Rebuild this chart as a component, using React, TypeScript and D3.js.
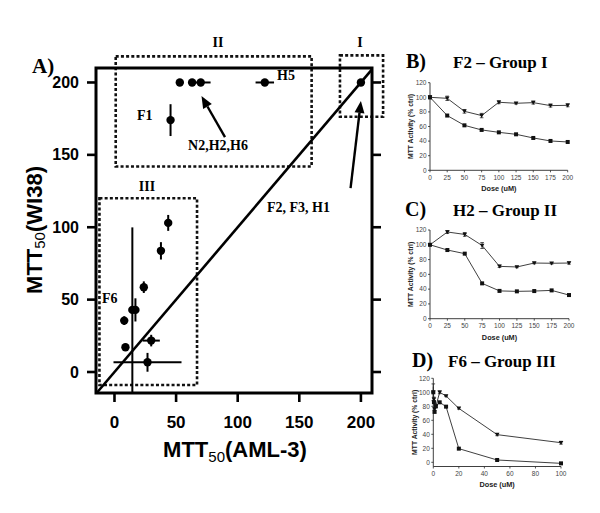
import React from 'react';
import * as d3 from 'd3';

// ---------- Panel A data (MTT50 AML-3 vs WI38) ----------
const amlValues = [200, 53, 63, 70, 122, 45.5, 43.6, 37.7, 23.8, 7.9, 14.5, 17, 8.9, 29.8, 26.8];
const wi38Values = [200, 200, 200, 200, 200, 174, 103, 83.7, 58.6, 35.5, 42.9, 42.9, 17.1, 21.7, 6.7];
const amlErrors = [0, 3, 3, 8, 7.5, 0, 0, 0, 0, 0, 0, 0, 0, 7, 27.6];
const wi38Errors = [0, 0, 0, 0, 0, 11, 5.5, 6, 4, 3, 57, 8, 0, 4, 6.5];
const mainTicks = [0, 50, 100, 150, 200];

// group boxes: [x0, x1, y0, y1] in data units, label
const boxLabels = ['II', 'I', 'III'];
const boxExtents = [
  [1, 160, 142, 218],
  [183, 218, 176.3, 218.7],
  [-12.2, 67, -9, 120],
];
const boxLabelPos = [
  [84, 224.5],
  [199.3, 224.5],
  [26.4, 125],
];
const noteTexts = ['F1', 'N2,H2,H6', 'H5', 'F2, F3, H1', 'F6'];
const notePos = [
  [18.3, 174],
  [59.7, 153.3],
  [131.9, 201.7],
  [123.8, 110.5],
  [-10.1, 47.7],
];
// arrows: [tailX, tailY, tipX, tipY] data units
const arrows = [
  [89.7, 162.3, 70.6, 190.6],
  [191.6, 127, 200, 187.2],
];

// ---------- Panel B: F2 ----------
const doseB = [0, 25, 50, 75, 100, 125, 150, 175, 200];
const bUpper = [100, 98.6, 80.8, 75, 93.2, 91.8, 92.7, 88.6, 89];
const bUpperErr = [2, 3, 2.5, 3, 2, 1, 2, 2, 2];
const bLower = [100, 75, 61.6, 55.3, 52, 49.3, 44.3, 40.2, 38.8];
const bLowerErr = [1, 1, 1, 1, 1, 1, 1, 1, 1];

// ---------- Panel C: H2 ----------
const doseC = [0, 25, 50, 75, 100, 125, 150, 175, 200];
const cUpper = [100, 117.3, 114, 99, 70.8, 70, 75.3, 75, 75.3];
const cUpperErr = [1, 2, 2.5, 4, 1.5, 1, 1, 1, 1.5];
const cLower = [100, 92.9, 88, 47.8, 37.6, 37, 37.4, 38.3, 32];
const cLowerErr = [1, 1, 1, 1, 1, 1, 1, 1, 1];

// ---------- Panel D: F6 ----------
const doseD = [0, 0.5, 1, 2, 5, 10, 20, 50, 100];
const dUpper = [100, 90, 76, 80, 100, 94.8, 77, 39.5, 28];
const dUpperErr = [12, 3, 2, 2, 2, 1, 1, 1.5, 2];
const dLower = [100, 86, 72, 80, 85.7, 79.5, 19.5, 3.3, -1.5];
const dLowerErr = [8, 2, 2, 2, 1, 1, 1, 1, 1];

const ticksDoseBC = [0, 25, 50, 75, 100, 125, 150, 175, 200];
const ticksDoseD = [0, 20, 40, 60, 80, 100];
const ticksActivity = [0, 20, 40, 60, 80, 100, 120];

const SANS = '"Liberation Sans", Arial, sans-serif';
const SERIF = '"Liberation Serif", "Times New Roman", serif';

type SmallProps = {
  left: number; right: number; top: number; bottom: number;
  xDomain: [number, number]; yDomain: [number, number];
  xTicks: number[]; dose: number[];
  upper: number[]; upperErr: number[]; lower: number[]; lowerErr: number[];
  yLabelOffset: number; doseOffset: number;
};

function SmallChart(p: SmallProps) {
  const x = d3.scaleLinear().domain(p.xDomain).range([p.left, p.right]);
  const y = d3.scaleLinear().domain(p.yDomain).range([p.bottom, p.top]);
  const line = d3.line<number>().x((_, i) => x(p.dose[i])).y((v) => y(v));
  const axisY = y(p.yDomain[0]);
  const col = '#2a2a2a';
  const tri = (cx: number, cy: number) => `M${cx - 2.3},${cy - 1.8}L${cx + 2.3},${cy - 1.8}L${cx},${cy + 2.2}Z`;
  return (
    <g>
      {/* axes */}
      <line x1={p.left} x2={p.left} y1={y(p.yDomain[1])} y2={axisY} stroke={col} strokeWidth={0.9} />
      <line x1={p.left} x2={p.right} y1={axisY} y2={axisY} stroke={col} strokeWidth={0.9} />
      {ticksActivity.map((t) => (
        <g key={'y' + t}>
          <line x1={p.left - 2} x2={p.left} y1={y(t)} y2={y(t)} stroke={col} strokeWidth={0.8} />
          <text x={p.left - 3.5} y={y(t) + 2.3} fontSize={6.5} fontFamily={SANS} textAnchor="end" fill="#444">{t}</text>
        </g>
      ))}
      {p.xTicks.map((t) => (
        <g key={'x' + t}>
          <line x1={x(t)} x2={x(t)} y1={axisY} y2={axisY + 2} stroke={col} strokeWidth={0.8} />
          <text x={x(t)} y={axisY + 9.5} fontSize={6.5} fontFamily={SANS} textAnchor="middle" fill="#444">{t}</text>
        </g>
      ))}
      <text x={(p.left + p.right) / 2} y={axisY + p.doseOffset} fontSize={7.3} fontWeight="bold" fontFamily={SANS} textAnchor="middle" fill="#222">Dose (uM)</text>
      <text transform={`translate(${p.left - p.yLabelOffset},${(y(p.yDomain[1]) + axisY) / 2}) rotate(-90)`} fontSize={6.8} fontWeight="bold" fontFamily={SANS} textAnchor="middle" fill="#222">MTT Activity (% ctrl)</text>
      {/* lines */}
      <path d={line(p.upper) || ''} fill="none" stroke={col} strokeWidth={0.9} />
      <path d={line(p.lower) || ''} fill="none" stroke={col} strokeWidth={0.9} />
      {/* error bars */}
      {p.upper.map((v, i) => (
        <g key={'ue' + i}>
          <line x1={x(p.dose[i])} x2={x(p.dose[i])} y1={y(v - p.upperErr[i])} y2={y(v + p.upperErr[i])} stroke={col} strokeWidth={0.8} />
          <line x1={x(p.dose[i]) - 1.8} x2={x(p.dose[i]) + 1.8} y1={y(v - p.upperErr[i])} y2={y(v - p.upperErr[i])} stroke={col} strokeWidth={0.8} />
          <line x1={x(p.dose[i]) - 1.8} x2={x(p.dose[i]) + 1.8} y1={y(v + p.upperErr[i])} y2={y(v + p.upperErr[i])} stroke={col} strokeWidth={0.8} />
        </g>
      ))}
      {p.lower.map((v, i) => (
        <line key={'le' + i} x1={x(p.dose[i])} x2={x(p.dose[i])} y1={y(v - p.lowerErr[i])} y2={y(v + p.lowerErr[i])} stroke={col} strokeWidth={0.8} />
      ))}
      {/* markers */}
      {p.upper.map((v, i) => (
        <path key={'um' + i} d={tri(x(p.dose[i]), y(v))} fill="#111" />
      ))}
      {p.lower.map((v, i) => (
        <rect key={'lm' + i} x={x(p.dose[i]) - 2} y={y(v) - 2} width={4} height={4} fill="#111" />
      ))}
    </g>
  );
}

export default function App() {
  const x = d3.scaleLinear().domain([-15, 209]).range([96, 372]);
  const y = d3.scaleLinear().domain([-14.5, 210]).range([393, 68]);
  const [x0, x1] = x.domain();
  const [y0, y1] = y.domain();
  const dotted = '3 2.2';

  const arrowHead = (a: number[]) => {
    const tx = x(a[2]), ty = y(a[3]);
    const sx = x(a[0]), sy = y(a[1]);
    const ang = Math.atan2(ty - sy, tx - sx);
    const L = 12, W = 5;
    const bx = tx - L * Math.cos(ang), by = ty - L * Math.sin(ang);
    const px = -Math.sin(ang) * W, py = Math.cos(ang) * W;
    return { d: `M${tx},${ty}L${bx + px},${by + py}L${bx - px},${by - py}Z`, bx, by, sx, sy };
  };

  return (
    <svg width={600} height={513} style={{ position: 'absolute', left: 0, top: 0, background: '#fff' }}>
      <rect x={0} y={0} width={600} height={513} fill="#fff" />
      {/* ---------- Panel A ---------- */}
      <text x={32} y={73} fontFamily={SERIF} fontWeight="bold" fontSize={21}>A)</text>
      {/* group boxes */}
      {boxExtents.map((b, i) => (
        <rect key={'box' + i} x={x(b[0])} y={y(b[3])} width={x(b[1]) - x(b[0])} height={y(b[2]) - y(b[3])}
          fill="none" stroke="#111" strokeWidth={2.6} strokeDasharray={dotted} />
      ))}
      {boxLabels.map((t, i) => (
        <text key={'bl' + i} x={x(boxLabelPos[i][0])} y={y(boxLabelPos[i][1])} fontFamily={SERIF} fontWeight="bold" fontSize={14} textAnchor="middle">{t}</text>
      ))}
      {/* frame */}
      <rect x={x(x0)} y={y(y1)} width={x(x1) - x(x0)} height={y(y0) - y(y1)} fill="none" stroke="#000" strokeWidth={3} />
      {/* diagonal identity line */}
      <line x1={x(Math.max(x0, y0))} y1={y(Math.max(x0, y0))} x2={x(Math.min(x1, y1))} y2={y(Math.min(x1, y1))} stroke="#000" strokeWidth={2.6} />
      {/* ticks */}
      {mainTicks.map((t) => (
        <g key={'my' + t}>
          <line x1={x(x0) - 9} x2={x(x0)} y1={y(t)} y2={y(t)} stroke="#000" strokeWidth={2.6} />
          <line x1={x(x1)} x2={x(x1) + 9} y1={y(t)} y2={y(t)} stroke="#000" strokeWidth={2.6} />
          <text x={79} y={y(t) + 5.5} fontFamily={SANS} fontWeight="bold" fontSize={16} textAnchor="end">{t}</text>
        </g>
      ))}
      {mainTicks.map((t) => (
        <g key={'mx' + t}>
          <line x1={x(t)} x2={x(t)} y1={y(y0)} y2={y(y0) + 9} stroke="#000" strokeWidth={2.6} />
          <text x={x(t)} y={428} fontFamily={SANS} fontWeight="bold" fontSize={17} textAnchor="middle">{t}</text>
        </g>
      ))}
      {/* axis titles */}
      <text x={235} y={457} fontFamily={SANS} fontWeight="bold" fontSize={22} textAnchor="middle">
        MTT<tspan fontWeight="normal" fontSize={15} dy={5}>50</tspan><tspan dy={-5}>(AML-3)</tspan>
      </text>
      <text transform="translate(42,230) rotate(-90)" fontFamily={SANS} fontWeight="bold" fontSize={22} textAnchor="middle">
        MTT<tspan fontWeight="normal" fontSize={15} dy={3}>50</tspan><tspan dy={-3}>(WI38)</tspan>
      </text>
      {/* error bars */}
      {amlValues.map((v, i) => (
        <g key={'err' + i}>
          {amlErrors[i] > 0 && (
            <line x1={x(v - amlErrors[i])} x2={x(v + amlErrors[i])} y1={y(wi38Values[i])} y2={y(wi38Values[i])} stroke="#000" strokeWidth={2} />
          )}
          {wi38Errors[i] > 0 && (
            <line x1={x(v)} x2={x(v)} y1={y(Math.max(y0, wi38Values[i] - wi38Errors[i]))} y2={y(wi38Values[i] + wi38Errors[i])} stroke="#000" strokeWidth={2} />
          )}
        </g>
      ))}
      {amlValues.map((v, i) => (
        <circle key={'pt' + i} cx={x(v)} cy={y(wi38Values[i])} r={4.2} fill="#000" />
      ))}
      {/* notes */}
      {noteTexts.map((t, i) => (
        <text key={'nt' + i} x={x(notePos[i][0])} y={y(notePos[i][1])} fontFamily={SERIF} fontWeight="bold" fontSize={14}>{t}</text>
      ))}
      {arrows.map((a, i) => {
        const h = arrowHead(a);
        return (
          <g key={'ar' + i}>
            <line x1={h.sx} y1={h.sy} x2={h.bx} y2={h.by} stroke="#000" strokeWidth={2.4} />
            <path d={h.d} fill="#000" />
          </g>
        );
      })}

      {/* ---------- Panel B ---------- */}
      <text x={406} y={68} fontFamily={SERIF} fontWeight="bold" fontSize={20}>B)</text>
      <text x={453} y={68} fontFamily={SERIF} fontWeight="bold" fontSize={17}>F2 – Group I</text>
      <SmallChart left={430} right={567.7} top={82.7} bottom={170.3} xDomain={[0, 200]} yDomain={[0, 120]}
        xTicks={ticksDoseBC} dose={doseB} upper={bUpper} upperErr={bUpperErr} lower={bLower} lowerErr={bLowerErr}
        yLabelOffset={17} doseOffset={21} />

      {/* ---------- Panel C ---------- */}
      <text x={405} y={216} fontFamily={SERIF} fontWeight="bold" fontSize={20}>C)</text>
      <text x={453} y={216} fontFamily={SERIF} fontWeight="bold" fontSize={17}>H2 – Group II</text>
      <SmallChart left={430} right={569} top={230} bottom={318.7} xDomain={[0, 200]} yDomain={[0, 120]}
        xTicks={ticksDoseBC} dose={doseC} upper={cUpper} upperErr={cUpperErr} lower={cLower} lowerErr={cLowerErr}
        yLabelOffset={17} doseOffset={21} />

      {/* ---------- Panel D ---------- */}
      <text x={412} y={367} fontFamily={SERIF} fontWeight="bold" fontSize={20}>D)</text>
      <text x={448} y={367} fontFamily={SERIF} fontWeight="bold" fontSize={17}>F6 – Group III</text>
      <SmallChart left={433.3} right={561} top={378.3 - 0.7 * 0} bottom={466.5} xDomain={[0, 100]} yDomain={[-6, 120]}
        xTicks={ticksDoseD} dose={doseD} upper={dUpper} upperErr={dUpperErr} lower={dLower} lowerErr={dLowerErr}
        yLabelOffset={16} doseOffset={20} />
    </svg>
  );
}
